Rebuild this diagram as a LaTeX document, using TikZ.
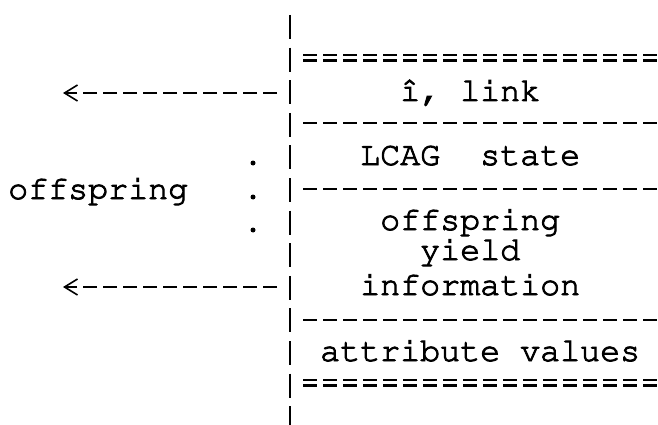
\documentclass[tikz,border=0pt]{standalone}
\usepackage[T1]{fontenc}
\usetikzlibrary{arrows.meta}
\newcommand{\twfont}{\fontencoding{T1}\fontfamily{pcr}\fontseries{m}\fontshape{n}\fontsize{33.33}{40}\selectfont}
\newcommand{\inkon}{\special{pdf:literal direct 2 Tr 0.9 w}}
\newcommand{\inkoff}{\special{pdf:literal direct 0 Tr}}
\newcommand{\ink}[1]{\inkon#1\inkoff}
\begin{document}
\begin{tikzpicture}[x=1pt,y=-1pt,
  txt/.style={anchor=base west,inner sep=0pt,font=\twfont},
  barline/.style={line width=2.4pt,dash pattern=on 24pt off 8.6pt},
  dashrow/.style={line width=2.6pt,dash pattern=on 14pt off 6pt},
  eqrow/.style={line width=2.2pt,dash pattern=on 14pt off 6pt},
  arrowline/.style={line width=2.6pt,dash pattern=on 14pt off 6pt,
    -{Straight Barb[length=13pt,width=16pt,line width=1.6pt]}},
  dotmark/.style={fill=black,draw=none,circle,minimum size=5pt,inner sep=0pt}]
\fill[white] (0,0) rectangle (658,425);
\useasboundingbox (0,0) rectangle (658,425);
% vertical bar
\coordinate (bartop) at (290,15);
\coordinate (barbot) at (290,430);
\draw[barline] (bartop) -- (barbot);
% separator rows
\coordinate (eq1a) at (303,55);  \coordinate (eq1b) at (660,55);
\coordinate (eq1c) at (303,60.5);\coordinate (eq1d) at (660,60.5);
\draw[eqrow] (eq1a) -- (eq1b);
\draw[eqrow] (eq1c) -- (eq1d);
\coordinate (d3a) at (303,123); \coordinate (d3b) at (660,123);
\draw[dashrow] (d3a) -- (d3b);
\coordinate (d5a) at (303,189); \coordinate (d5b) at (660,189);
\draw[dashrow] (d5a) -- (d5b);
\coordinate (d9a) at (303,320); \coordinate (d9b) at (660,320);
\draw[dashrow] (d9a) -- (d9b);
\coordinate (eq2a) at (303,380);  \coordinate (eq2b) at (660,380);
\coordinate (eq2c) at (303,385.5);\coordinate (eq2d) at (660,385.5);
\draw[eqrow] (eq2a) -- (eq2b);
\draw[eqrow] (eq2c) -- (eq2d);
% texts
\node[txt] (link) at (400,101) {\ink{\^{\i}, link}};
\node[txt] (lcag) at (360,165) {\ink{LCAG\ \ state}};
\node[txt] (off) at (380,230) {\ink{offspring}};
\node[txt] (yield) at (420,260) {\ink{yield}};
\node[txt] (info) at (360,295) {\ink{information}};
\node[txt] (attr) at (320,361) {\ink{attribute values}};
\node[txt] (offl) at (8,199) {\ink{offspring}};
% dots
\node[dotmark] (dot1) at (253,163) {};
\node[dotmark] (dot2) at (253,197) {};
\node[dotmark] (dot3) at (253,230) {};
% arrows
\coordinate (b2) at (277,93);  \coordinate (t2) at (63,93);
\draw[arrowline] (b2) -- (t2);
\coordinate (b8) at (277,287); \coordinate (t8) at (63,287);
\draw[arrowline] (b8) -- (t8);
\end{tikzpicture}
\end{document}
